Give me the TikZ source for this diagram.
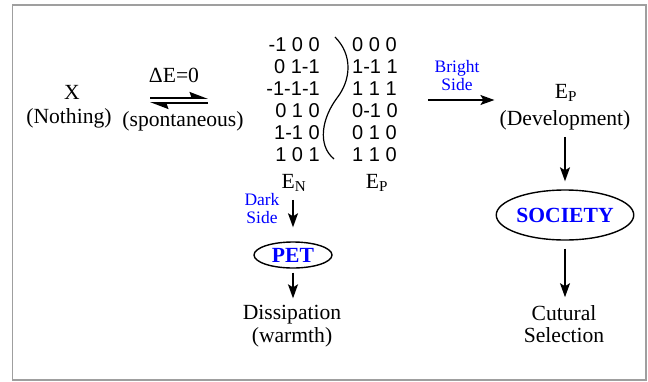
\documentclass[tikz,border=0pt]{standalone}
\usepackage{fontspec}
\setmainfont{Liberation Serif}
\newfontfamily\digitfont{Liberation Sans}
\usetikzlibrary{shapes.geometric,arrows.meta}

\begin{document}
\begin{tikzpicture}
            [
                x=1pt, y=-1pt,
                every node/.style={
                    inner sep=0pt, font=\fontsize{21.6}{22}\selectfont
                },
                side/.style={text=blue, align=center,
                    font=\fontsize{17.5}{18}\selectfont},
                oval/.style={ellipse, draw, line width=1.4pt, text=blue,
                    font=\fontsize{21.6}{22}\selectfont\bfseries},
                digits/.style={font=\digitfont\fontsize{20}{22}\selectfont},
                arr/.style={line width=1.6pt,
                    -{Stealth[length=14pt,width=10pt,inset=3pt]}},
                half/.style={line width=1.8pt,
                    -{Stealth[harpoon,length=16pt,width=12pt,inset=2pt]}}
            ]
            % frame
            \useasboundingbox (0,0) rectangle (648,381);
            \draw[gray!75, line width=1.6pt] (12.5,4.7) rectangle (646,380);

            % left part
            \node (x) at (72,92) {X};
            \node (nothing) at (69,118) {(Nothing)};
            \node (de) at (174,75) {ΔE=0};
            \node (spont) at (183,121) {(spontaneous)};
            \coordinate (eqa) at (150,98);
            \coordinate (eqb) at (208,98);
            \coordinate (eqc) at (150,103);
            \coordinate (eqd) at (208,103);
            \draw[half] (eqa) -- (eqb);
            \draw[half] (eqd) -- (eqc);

            % the two matrices
            \node[digits, align=right, anchor=east] (lmat) at (320,100)
                {-1 0 0\\0 1-1\\-1-1-1\\0 1 0\\1-1 0\\1 0 1};
            \node[digits, align=left, anchor=west] (rmat) at (352,100)
                {0 0 0\\1-1 1\\1 1 1\\0-1 0\\0 1 0\\1 1 0};
            \draw[line width=1.2pt] (335,37) .. controls (353,55) and (351,80) .. (337,98)
                .. controls (322,118) and (317,145) .. (334,159);
            \node (en) at (294,183) {E\textsubscript{N}};
            \node (ep) at (377,183) {E\textsubscript{P}};

            % dark side
            \node[side] (dark) at (262,209) {Dark\\Side};
            \node[oval, minimum width=78pt, minimum height=26pt] (pet) at (293,255) {PET};
            \node (diss) at (292,315) {Dissipation};
            \node (warm) at (292,337) {(warmth)};
            \draw[arr, shorten <=8pt, shorten >=14pt] (en.south -| pet.north) -- (pet.north);
            \draw[arr, shorten <=4pt, shorten >=7pt] (pet.south) -- (pet.south |- diss.north);

            % bright side
            \node[side] (bright) at (457,76) {Bright\\Side};
            \node (ep2) at (566,93) {E\textsubscript{P}};
            \node (dev) at (565,120) {(Development)};
            \draw[arr, shorten <=30pt, shorten >=5pt] (rmat.east) -- (rmat.east -| dev.west);
            \node[oval, minimum width=128pt, minimum height=50pt] (society) at (565,215) {SOCIETY};
            \node (cut) at (564,313) {Cutural};
            \node (sel) at (564,335) {Selection};
            \draw[arr, shorten <=7pt, shorten >=8pt] (dev.south) -- (dev.south |- society.north);
            \draw[arr, shorten <=8pt, shorten >=8pt] (society.south) -- (society.south |- cut.north);
            \end{tikzpicture}
\end{document}
